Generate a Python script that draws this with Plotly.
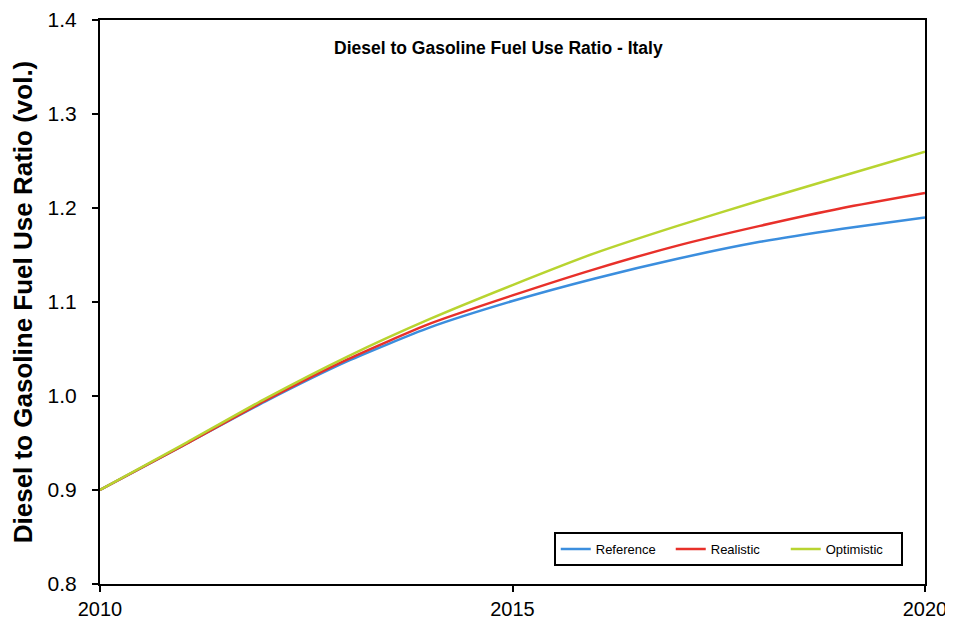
import plotly.graph_objects as go

years = [2010, 2011, 2012, 2013, 2014, 2015, 2016, 2017, 2018, 2019, 2020]
reference = [0.900, 0.947, 0.994, 1.037, 1.073, 1.101, 1.125, 1.146, 1.164, 1.178, 1.190]
realistic = [0.900, 0.947, 0.995, 1.039, 1.077, 1.107, 1.135, 1.160, 1.181, 1.200, 1.216]
optimistic = [0.900, 0.948, 0.997, 1.042, 1.082, 1.118, 1.152, 1.181, 1.208, 1.234, 1.260]

y_ticks = [0.8, 0.9, 1.0, 1.1, 1.2, 1.3, 1.4]
x_ticks = [2010, 2015, 2020]

series = [
    ("Reference", reference, "#3b8ede"),
    ("Realistic", realistic, "#e8302a"),
    ("Optimistic", optimistic, "#b8d430"),
]

fig = go.Figure()
for name, vals, col in series:
    fig.add_trace(go.Scatter(x=years, y=vals, mode="lines", name=name,
                             line=dict(color=col, width=2.5, shape="spline", smoothing=0.6)))

fig.update_layout(
    width=945, height=615,
    margin=dict(l=92, r=28, t=12, b=39),
    paper_bgcolor="white", plot_bgcolor="white",
    font=dict(family="Arial, Liberation Sans, sans-serif", color="black"),
    showlegend=True,
    legend=dict(orientation="h", x=0.550, y=0.0922, xanchor="left", yanchor="top",
                bordercolor="black", borderwidth=2, bgcolor="white",
                font=dict(size=13), entrywidth=70, tracegroupgap=0),
    annotations=[dict(text="<b>Diesel to Gasoline Fuel Use Ratio - Italy</b>",
                      x=0.483, y=0.95, xref="paper", yref="paper", showarrow=False,
                      font=dict(size=17.5), xanchor="center", yanchor="middle")],
)
fig.update_xaxes(range=[2010, 2020], tickvals=x_ticks, ticks="outside", ticklen=6,
                 tickwidth=2, tickcolor="black", showline=True, linecolor="black",
                 linewidth=2, mirror=True, showgrid=False, zeroline=False,
                 tickfont=dict(size=20), ticklabelstandoff=0, automargin=False)
fig.update_yaxes(range=[0.8, 1.4], tickvals=y_ticks, tickformat=".1f", ticks="outside",
                 ticklen=6, tickwidth=1.5, tickcolor="black", showline=True,
                 linecolor="black", linewidth=2, mirror=True, showgrid=False,
                 zeroline=False, tickfont=dict(size=21), ticklabelstandoff=11,
                 automargin=False,
                 title=dict(text="<b>Diesel to Gasoline Fuel Use Ratio (vol.)</b>",
                            font=dict(size=26), standoff=8))

fig.write_html("out.html")
